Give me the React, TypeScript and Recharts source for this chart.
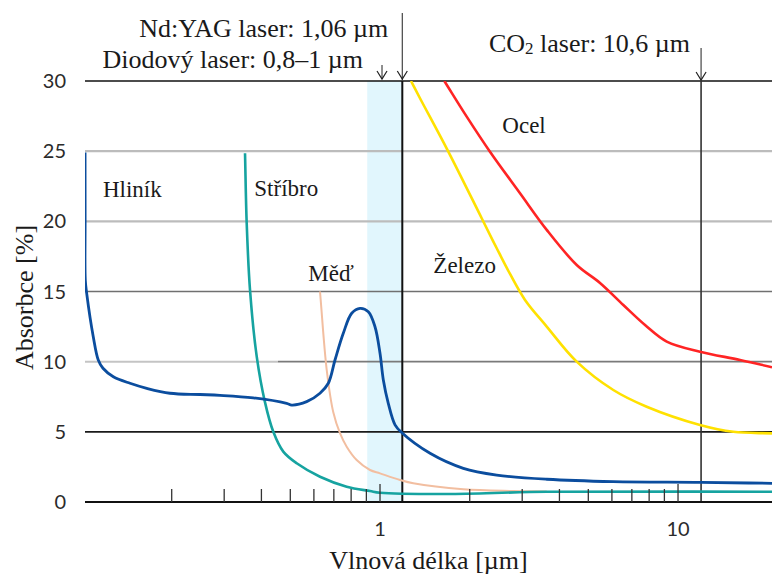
import React from 'react';
import {
  LineChart,
  Line,
  XAxis,
  YAxis,
  ReferenceLine,
  ReferenceArea,
  ReferenceDot,
} from 'recharts';

// ---------- data ----------
const X_DOMAIN = [0.10235, 20.67];
const Y_DOMAIN = [0, 30];
const Y_TICKS = [0, 5, 10, 15, 20, 25, 30];
const X_TICKS = [0.2, 0.3, 0.4, 0.5, 0.6, 0.7, 0.8, 0.9, 1, 2, 3, 4, 5, 6, 7, 8, 9, 10];
const X_TICK_LABELS = [1, 10];

const X_TITLE = 'Vlnová délka [µm]';
const Y_TITLE = 'Absorbce [%]';

// Hliník (aluminium)
const alX = [0.1024, 0.10245, 0.1026, 0.1037, 0.1091, 0.1134, 0.1176, 0.1274, 0.1449, 0.1649, 0.1973, 0.2489, 0.2904, 0.3757, 0.486, 0.5055, 0.5675, 0.629, 0.6707, 0.7063, 0.753, 0.8036, 0.857, 0.9136, 0.962, 1.0, 1.026, 1.066, 1.123, 1.182, 1.472, 1.904, 2.464, 3.626, 6.065, 11.95, 20.67];
const alY = [24.9, 20.0, 15.8, 14.87, 11.78, 10.12, 9.53, 8.93, 8.46, 8.1, 7.75, 7.66, 7.6, 7.42, 7.03, 6.91, 7.15, 7.75, 8.46, 10.12, 12.02, 13.45, 13.8, 13.56, 12.49, 10.6, 8.7, 7.03, 5.5, 4.95, 3.47, 2.4, 1.92, 1.62, 1.45, 1.4, 1.33];

// Stříbro (silver)
const agX = [0.3524, 0.357, 0.3663, 0.3858, 0.4113, 0.4385, 0.4736, 0.5254, 0.629, 0.773, 0.9256, 1.0, 1.674, 3.626, 20.67];
const agY = [24.85, 19.86, 15.1, 10.36, 7.1, 5.0, 3.59, 2.76, 1.8, 1.09, 0.78, 0.66, 0.57, 0.73, 0.73];

// Měď (copper)
const cuX = [0.629, 0.6626, 0.697, 0.734, 0.773, 0.835, 0.9256, 1.0, 1.167, 1.293, 1.904, 2.801, 3.626];
const cuY = [15.0, 9.4, 6.4, 4.9, 3.94, 2.99, 2.28, 2.04, 1.57, 1.33, 0.9, 0.78, 0.75];

// Železo (iron)
const feX = [1.2706, 1.362, 1.695, 2.194, 2.464, 2.731, 3.066, 3.626, 4.571, 6.065, 7.85, 11.85, 15.33, 20.67];
const feY = [30, 28.77, 24.97, 20.22, 18.08, 16.25, 14.4, 12.5, 10.0, 7.98, 6.79, 5.49, 5.0, 4.89];

// Ocel (steel)
const stX = [1.644, 1.954, 2.339, 2.95, 3.626, 4.572, 5.473, 6.553, 7.751, 9.165, 11.85, 16.15, 20.67];
const stY = [30, 27.46, 24.96, 22.0, 19.39, 16.89, 15.61, 14.04, 12.61, 11.43, 10.71, 10.12, 9.6];

// laser markers, as drawn
const DIODE_BAND = [0.906, 1.188];
const DIODE_ARROW_X = 1.0;
const NDYAG_X = 1.188;
const CO2_X = 11.95;
const NDYAG_TEXT = 'Nd:YAG laser: 1,06 µm';
const DIODE_TEXT = 'Diodový laser: 0,8–1 µm';
const CO2_TEXT_A = 'CO';
const CO2_TEXT_SUB = '2';
const CO2_TEXT_B = ' laser: 10,6 µm';

// curve names with anchor points (x, y in data units)
const curveNames = ['Hliník', 'Stříbro', 'Měď', 'Ocel', 'Železo'];
const curveNameX = [0.1176, 0.3787, 0.5745, 2.573, 1.51];
const curveNameY = [21.76, 21.8, 15.77, 26.28, 16.34];

const toPoints = (xs: number[], ys: number[]) => xs.map((x, i) => ({ x, y: ys[i] }));
const alData = toPoints(alX, alY);
const agData = toPoints(agX, agY);
const cuData = toPoints(cuX, cuY);
const feData = toPoints(feX, feY);
const stData = toPoints(stX, stY);

const SERIF = 'Liberation Serif, Times New Roman, serif';
const SANS = 'Lato, sans-serif';

// centripetal Catmull-Rom curve factory (smooth line style through the points)
function catmullRom(context: any) {
  let pts: number[][] = [];
  return {
    areaStart() {},
    areaEnd() {},
    lineStart() {
      pts = [];
    },
    point(x: number, y: number) {
      pts.push([+x, +y]);
    },
    lineEnd() {
      const n = pts.length;
      if (!n) return;
      context.moveTo(pts[0][0], pts[0][1]);
      if (n === 1) return;
      const eps = 1e-9;
      for (let i = 0; i < n - 1; i++) {
        const p0 = pts[i - 1] || pts[i];
        const p1 = pts[i];
        const p2 = pts[i + 1];
        const p3 = pts[i + 2] || pts[i + 1];
        const l01 = Math.hypot(p1[0] - p0[0], p1[1] - p0[1]);
        const l12 = Math.hypot(p2[0] - p1[0], p2[1] - p1[1]);
        const l23 = Math.hypot(p3[0] - p2[0], p3[1] - p2[1]);
        const l01a = Math.sqrt(l01), l12a = Math.sqrt(l12), l23a = Math.sqrt(l23);
        let c1x, c1y, c2x, c2y;
        if (l01a > eps) {
          const a = 2 * l01 + 3 * l01a * l12a + l12;
          const m = 3 * l01a * (l01a + l12a);
          c1x = (p1[0] * a - p0[0] * l12 + p2[0] * l01) / m;
          c1y = (p1[1] * a - p0[1] * l12 + p2[1] * l01) / m;
        } else {
          c1x = p1[0] + (p2[0] - p1[0]) / 3;
          c1y = p1[1] + (p2[1] - p1[1]) / 3;
        }
        if (l23a > eps) {
          const b = 2 * l23 + 3 * l23a * l12a + l12;
          const m = 3 * l23a * (l23a + l12a);
          c2x = (p2[0] * b + p1[0] * l23 - p3[0] * l12) / m;
          c2y = (p2[1] * b + p1[1] * l23 - p3[1] * l12) / m;
        } else {
          c2x = p2[0] - (p2[0] - p1[0]) / 3;
          c2y = p2[1] - (p2[1] - p1[1]) / 3;
        }
        context.bezierCurveTo(c1x, c1y, c2x, c2y, p2[0], p2[1]);
      }
    },
  };
}

const renderXTick = (props: any) => {
  const { x, y, payload } = props;
  const v = payload.value;
  const major = X_TICK_LABELS.includes(v);
  return (
    <g>
      <line x1={x} x2={x} y1={y} y2={y - (major ? 18 : 13)} stroke="#333" strokeWidth={1.3} />
      {major && (
        <text x={x} y={y + 34} textAnchor="middle" fill="#2b2b2b" fontSize={20} fontFamily={SANS}>
          {v}
        </text>
      )}
    </g>
  );
};

const Chevron = ({ x, y }: { x: number; y: number }) => (
  <polyline points={`${x - 5},${y - 8} ${x},${y} ${x + 5},${y - 8}`} fill="none" stroke="#222" strokeWidth={1.2} />
);

export default function App() {
  return (
    <div style={{ position: 'absolute', left: 0, top: 0, width: 772, height: 578, background: '#fff' }}>
      <LineChart width={772} height={578} margin={{ top: 81, right: 0, bottom: 0, left: 0 }}>
        <XAxis
          dataKey="x"
          type="number"
          scale="log"
          domain={X_DOMAIN}
          allowDataOverflow
          ticks={X_TICKS}
          interval={0}
          tick={renderXTick}
          tickSize={0}
          tickMargin={0}
          tickLine={false}
          axisLine={{ stroke: '#111', strokeWidth: 2 }}
          height={76}
          label={(p: any) => {
            const vb = p.viewBox;
            return (
              <text x={vb.x + vb.width / 2} y={vb.y + 67} textAnchor="middle" fontFamily={SERIF} fontSize={26} fill="#1a1a1a">
                {X_TITLE}
              </text>
            );
          }}
        />
        <YAxis
          type="number"
          domain={Y_DOMAIN}
          allowDataOverflow
          ticks={Y_TICKS}
          width={85}
          axisLine={false}
          tickLine={false}
          tickSize={0}
          tickMargin={19}
          tick={{ fill: '#2b2b2b', fontSize: 20, fontFamily: SANS }}
          label={(p: any) => {
            const vb = p.viewBox;
            const cx = 33;
            const cy = vb.y + vb.height / 2 + 6;
            return (
              <text x={cx} y={cy} transform={`rotate(-90, ${cx}, ${cy})`} textAnchor="middle" fontFamily={SERIF} fontSize={26} fill="#1a1a1a">
                {Y_TITLE}
              </text>
            );
          }}
        />

        <ReferenceArea x1={DIODE_BAND[0]} x2={DIODE_BAND[1]} y1={0} y2={30} fill="#e1f6fd" fillOpacity={1} stroke="none" />

        <ReferenceLine y={25} stroke="#bcbcbc" strokeWidth={2.2} />
        <ReferenceLine y={20} stroke="#bcbcbc" strokeWidth={2.2} />
        <ReferenceLine y={15} stroke="#707070" strokeWidth={1.6} />
        <ReferenceLine segment={[{ x: X_DOMAIN[0], y: 10 }, { x: 0.4546, y: 10 }]} stroke="#c4c4c4" strokeWidth={2} />
        <ReferenceLine segment={[{ x: 0.4546, y: 10 }, { x: X_DOMAIN[1], y: 10 }]} stroke="#7a7a7a" strokeWidth={1.6} />
        <ReferenceLine y={5} stroke="#1a1a1a" strokeWidth={1.6} />
        <ReferenceLine y={30} stroke="#111" strokeWidth={1.6} />

        <ReferenceLine
          x={NDYAG_X}
          stroke="#111"
          strokeWidth={2}
          label={(p: any) => {
            const vb = p.viewBox;
            return (
              <g>
                <line x1={vb.x} x2={vb.x} y1={vb.y - 68} y2={vb.y} stroke="#444" strokeWidth={1.2} />
                <Chevron x={vb.x} y={vb.y - 2} />
                <text x={vb.x - 14} y={vb.y - 44} textAnchor="end" fontFamily={SERIF} fontSize={26} fill="#1a1a1a">
                  {NDYAG_TEXT}
                </text>
              </g>
            );
          }}
        />
        <ReferenceLine
          x={DIODE_ARROW_X}
          stroke="none"
          label={(p: any) => {
            const vb = p.viewBox;
            return (
              <g>
                <line x1={vb.x + 2} x2={vb.x + 2} y1={vb.y - 16} y2={vb.y - 2} stroke="#444" strokeWidth={1.2} />
                <Chevron x={vb.x + 2} y={vb.y - 2} />
                <text x={vb.x - 17} y={vb.y - 13} textAnchor="end" fontFamily={SERIF} fontSize={26} fill="#1a1a1a">
                  {DIODE_TEXT}
                </text>
              </g>
            );
          }}
        />
        <ReferenceLine
          x={CO2_X}
          stroke="#333"
          strokeWidth={1.6}
          label={(p: any) => {
            const vb = p.viewBox;
            return (
              <g>
                <line x1={vb.x} x2={vb.x} y1={vb.y - 33} y2={vb.y} stroke="#444" strokeWidth={1.2} />
                <Chevron x={vb.x} y={vb.y - 1} />
                <text x={vb.x - 11} y={vb.y - 29} textAnchor="end" fontFamily={SERIF} fontSize={26} fill="#1a1a1a">
                  {CO2_TEXT_A}
                  <tspan fontSize={17} dy={2}>{CO2_TEXT_SUB}</tspan>
                  <tspan dy={-2}>{CO2_TEXT_B}</tspan>
                </text>
              </g>
            );
          }}
        />

        <Line data={cuData} dataKey="y" type={catmullRom as any} stroke="#f2bea0" strokeWidth={2} dot={false} isAnimationActive={false} />
        <Line data={agData} dataKey="y" type={catmullRom as any} stroke="#16a3a0" strokeWidth={2.6} dot={false} isAnimationActive={false} />
        <Line data={alData} dataKey="y" type={catmullRom as any} stroke="#0b4d9e" strokeWidth={2.8} dot={false} isAnimationActive={false} />
        <Line data={feData} dataKey="y" type={catmullRom as any} stroke="#ffe100" strokeWidth={2.6} dot={false} isAnimationActive={false} />
        <Line data={stData} dataKey="y" type={catmullRom as any} stroke="#ff2424" strokeWidth={2.6} dot={false} isAnimationActive={false} />

        {curveNames.map((name, i) => (
          <ReferenceDot
            key={name}
            x={curveNameX[i]}
            y={curveNameY[i]}
            r={0}
            fill="none"
            stroke="none"
            label={(p: any) => {
              const vb = p.viewBox;
              return (
                <text x={vb.x} y={vb.y} textAnchor="start" fontFamily={SERIF} fontSize={23} fill="#1a1a1a">
                  {name}
                </text>
              );
            }}
          />
        ))}
      </LineChart>
    </div>
  );
}
